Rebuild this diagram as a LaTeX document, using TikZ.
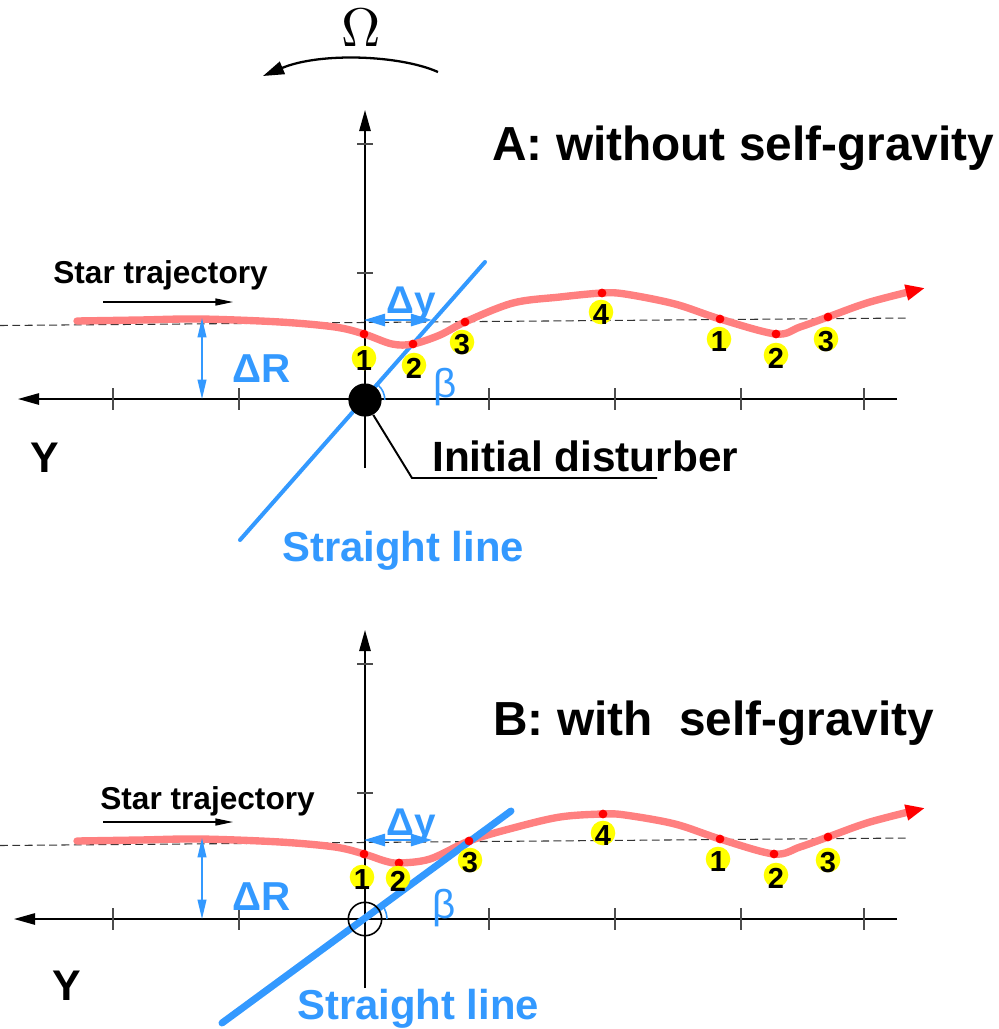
\documentclass[tikz,border=0pt]{standalone}
\usepackage{fontspec}
\setsansfont{Liberation Sans}
\usetikzlibrary{arrows.meta}
\definecolor{pinkc}{HTML}{FF8080}
\definecolor{redc}{HTML}{FF0000}
\definecolor{bluec}{HTML}{3399FF}
\definecolor{yel}{HTML}{FFFF00}
\newcommand\myfs[1]{\fontsize{#1}{#1}\selectfont}
\begin{document}
\begin{tikzpicture}[x=0.02cm,y=-0.02cm,
  axis/.style={line width=0.85pt, black},
  axarrow/.style={axis, -{Triangle[length=12pt,width=6.5pt]}},
  tickl/.style={line width=0.85pt, black!70},
  dashline/.style={line width=0.6pt, dash pattern=on 4.5pt off 2.5pt, black!80},
  curve/.style={line width=4.2pt, pinkc, line cap=round, -{Triangle[length=11pt,width=8.5pt,color=redc]}},
  dot/.style={circle, fill=redc, inner sep=0pt, minimum size=5pt},
  ycirc/.style={circle, fill=yel, inner sep=0pt, minimum size=14pt},
  digit/.style={font=\sffamily\bfseries\myfs{16.5pt}, inner sep=0pt},
  sline/.style={bluec, line cap=round},
  starrow/.style={line width=0.7pt, -{Triangle[length=10pt,width=4pt]}},
  dR/.style={bluec, line width=0.8pt, {Triangle[length=11pt,width=5pt]}-{Triangle[length=11pt,width=5pt]}},
  dY/.style={bluec, line width=1.1pt, {Triangle[length=12pt,width=7pt]}-{Triangle[length=12pt,width=7pt]}},
  title/.style={inner sep=0pt, anchor=base west, font=\sffamily\bfseries\myfs{27.2pt}},
  startxt/.style={inner sep=0pt, anchor=base west, font=\sffamily\bfseries\myfs{18pt}},
  bluebig/.style={inner sep=0pt, anchor=base west, text=bluec, font=\sffamily\bfseries\myfs{23.8pt}},
  deltaR/.style={inner sep=0pt, anchor=base west, text=bluec, font=\sffamily\bfseries\myfs{23pt}},
  deltaY/.style={inner sep=0pt, anchor=base west, text=bluec, font=\sffamily\bfseries\myfs{22pt}},
  betatxt/.style={inner sep=0pt, anchor=base west, text=bluec, font=\sffamily\myfs{23pt}},
  ytxt/.style={inner sep=0pt, anchor=base, font=\sffamily\bfseries\myfs{24.4pt}},
  leader/.style={line width=1.1pt, black}
]
\useasboundingbox (0,0) rectangle (999,1029);

% ---------- Omega ----------
\node[scale=3.1, inner sep=0pt] (omega) at (361,28) {$\Omega$};
\coordinate (omS) at (438,72);
\coordinate (omE) at (263,76);
\draw[line width=1.3pt, -{Triangle[length=12pt,width=7.5pt]}] (omS) .. controls (400,55) and (320,52) .. (omE);

% =================== Panel A ===================
\node[title] (titleA) at (492,160) {A: without self-gravity};
\draw[dashline] (0,325.5) -- (908,318);
% axes
\draw[axarrow] (897,399) -- (18,399);
\draw[axarrow] (365,468) -- (365,110);
\foreach \x in {113,239,489,615,741,864} \draw[tickl] (\x,388) -- (\x,410);
\draw[tickl] (357,144) -- (373,144);
\draw[tickl] (357,273) -- (373,273);
% star trajectory
\node[startxt] (starA) at (53,283) {Star trajectory};
\coordinate (saS) at (103,302); \coordinate (saE) at (233,302);
\draw[starrow] (saS) -- (saE);
% straight line
\coordinate (slA1) at (240,540); \coordinate (slA2) at (485,262);
\draw[sline, line width=2.3pt] (slA1) -- (slA2);
% curve
\draw[curve] plot[smooth, tension=0.55] coordinates {(77,321) (140,320) (200,319) (280,322) (335,327) (364,334) (392,344) (413,344) (440,335) (465,322) (513,303) (560,297) (602,293) (625,294) (675,304) (720,319) (776,334) (800,327) (828,317) (870,302) (925,288)};
\node[dot] (a1) at (364,334) {};
\node[dot] (a2) at (413,344) {};
\node[dot] (a3) at (465,322) {};
\node[dot] (a4) at (602,293) {};
\node[dot] (a5) at (720,319) {};
\node[dot] (a6) at (776,334) {};
\node[dot] (a7) at (828,317) {};
\node[ycirc, label={[digit,yshift=-1.7pt]center:1}] (la1) at (364,358) {};
\node[ycirc, label={[digit,yshift=-1.7pt]center:2}] (la2) at (414,365) {};
\node[ycirc, label={[digit,yshift=-1.7pt]center:3}] (la3) at (462,342) {};
\node[ycirc, label={[digit,yshift=-1.7pt]center:4}] (la4) at (601,312) {};
\node[ycirc, label={[digit,yshift=-1.7pt]center:1}] (la5) at (719,339) {};
\node[ycirc, label={[digit,yshift=-1.7pt]center:2}] (la6) at (776,355) {};
\node[ycirc, label={[digit,yshift=-1.7pt]center:3}] (la7) at (826,339) {};
% delta R, delta y, beta
\coordinate (drA1) at (202,318); \coordinate (drA2) at (202,399);
\draw[dR] (drA1) -- (drA2);
\node[deltaR] (dRA) at (232,382) {ΔR};
\coordinate (dyA1) at (364,320); \coordinate (dyA2) at (432,320);
\draw[dY] (dyA1) -- (dyA2);
\node[deltaY] (dyA) at (386,313) {Δy};
\node[betatxt] (betaA) at (433,397) {β};
% disturber
\node[circle, fill=black, minimum size=18.9pt, inner sep=0pt] (distA) at (365,400) {};
\draw[bluec, line width=0.9pt] ([shift={(0:11.3pt)}]distA.center) arc[start angle=0, end angle=48, radius=11.3pt];
\coordinate (bendA) at (412,478); \coordinate (endA) at (657,478);
\draw[leader] (distA.-61) -- (bendA) -- (endA);
\node[inner sep=0pt, anchor=base west, font=\sffamily\bfseries\myfs{24.1pt}] (initA) at (432,471) {Initial disturber};
\node[bluebig] (slabA) at (282,561) {Straight line};
\node[ytxt] (yA) at (45,472) {Y};

% =================== Panel B ===================
\node[title] (titleB) at (493,735) {B: with~~self-gravity};
\draw[dashline] (0,845.5) -- (908,838);
\draw[axarrow] (897,919) -- (14,919);
\draw[axarrow] (365,988) -- (365,630);
\foreach \x in {113,239,489,615,741,864} \draw[tickl] (\x,908) -- (\x,930);
\draw[tickl] (357,664) -- (373,664);
\draw[tickl] (357,793) -- (373,793);
\node[startxt] (starB) at (100,809) {Star trajectory};
\coordinate (sbS) at (103,822); \coordinate (sbE) at (233,822);
\draw[starrow] (sbS) -- (sbE);
\draw[curve] plot[smooth, tension=0.55] coordinates {(77,841) (140,840) (200,839) (280,842) (335,847) (364,854) (385,861) (399,863) (430,859) (469,841) (513,828) (560,817) (603,814) (625,815) (675,824) (720,839) (774,854) (800,847) (828,837) (870,822) (925,808)};
\coordinate (slB1) at (222,1023); \coordinate (slB2) at (511,811);
\draw[sline, line width=4pt] (slB1) -- (slB2);
\node[dot] (b1) at (364,854) {};
\node[dot] (b2) at (399,863) {};
\node[dot] (b3) at (469,841) {};
\node[dot] (b4) at (603,814) {};
\node[dot] (b5) at (720,839) {};
\node[dot] (b6) at (774,854) {};
\node[dot] (b7) at (828,837) {};
\node[ycirc, label={[digit,yshift=-1.7pt]center:1}] (lb1) at (362,877) {};
\node[ycirc, label={[digit,yshift=-1.7pt]center:2}] (lb2) at (398,878) {};
\node[ycirc, label={[digit,yshift=-1.7pt]center:3}] (lb3) at (470,860) {};
\node[ycirc, label={[digit,yshift=-1.7pt]center:4}] (lb4) at (603,833) {};
\node[ycirc, label={[digit,yshift=-1.7pt]center:1}] (lb5) at (718,859) {};
\node[ycirc, label={[digit,yshift=-1.7pt]center:2}] (lb6) at (776,875) {};
\node[ycirc, label={[digit,yshift=-1.7pt]center:3}] (lb7) at (828,860) {};
\coordinate (drB1) at (202,838); \coordinate (drB2) at (202,919);
\draw[dR] (drB1) -- (drB2);
\node[deltaR] (dRB) at (232,910) {ΔR};
\coordinate (dyB1) at (364,840); \coordinate (dyB2) at (432,840);
\draw[dY] (dyB1) -- (dyB2);
\node[deltaY] (dyB) at (386,835) {Δy};
\node[betatxt] (betaB) at (432,918) {β};
\node[circle, draw=black, line width=0.9pt, minimum size=19pt, inner sep=0pt] (distB) at (365,919) {};
\draw[bluec, line width=0.9pt] ([shift={(0:12.5pt)}]distB.center) arc[start angle=0, end angle=36, radius=12.5pt];
\node[bluebig] (slabB) at (297,1019) {Straight line};
\node[ytxt] (yB) at (67,1000) {Y};
\end{tikzpicture}
\end{document}
